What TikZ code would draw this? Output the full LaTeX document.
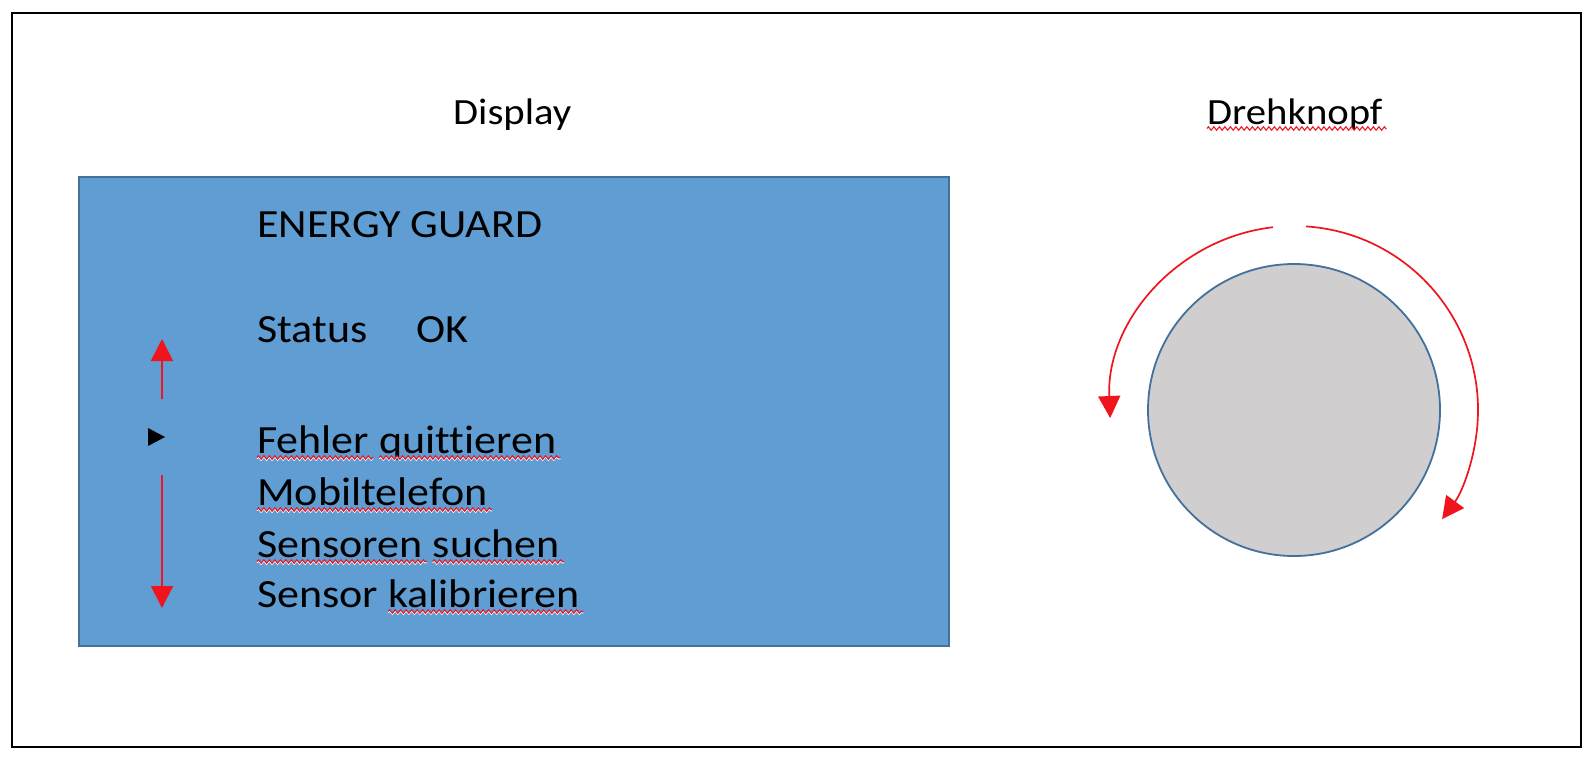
\documentclass[tikz,border=0pt]{standalone}
\usepackage{fontspec}
\setmainfont[FakeStretch=1.1,Ligatures=NoCommon]{Carlito}
\usetikzlibrary{arrows.meta,decorations.pathmorphing}
\definecolor{dispblue}{HTML}{5F9DD3}
\definecolor{edgeblue}{HTML}{41719C}
\definecolor{knobgray}{HTML}{D0CECE}
\definecolor{arrred}{HTML}{F0141E}
\newcommand\squigunder[1]{%
  \draw[squigw] ([yshift=-5.8pt]#1.base west) -- ([yshift=-5.8pt,xshift=4pt]#1.base east);
  \draw[squig] ([yshift=-4.5pt]#1.base west) -- ([yshift=-4.5pt,xshift=4pt]#1.base east);}
\begin{document}
\begin{tikzpicture}[x=1pt,y=-1pt,
  body/.style={font=\fontsize{40}{48}\selectfont, inner sep=0pt, anchor=base west},
  title/.style={font=\fontsize{37}{44}\selectfont, inner sep=0pt, anchor=base west},
  zz/.style={decorate, decoration={zigzag, segment length=5.5pt, amplitude=1.7pt}},
  squig/.style={zz, draw=arrred, line width=1.1pt},
  squigw/.style={zz, draw=white, line width=0.9pt},
  redarrow/.style={draw=arrred, line width=1.7pt, -{Triangle[length=22pt,width=22pt]}}]
\useasboundingbox (0,0) rectangle (1594,758);
\fill[white] (0,0) rectangle (1594,758);
% frame
\node (frame) [draw, line width=2.2pt, minimum width=1569pt, minimum height=734pt, inner sep=0pt] at (796.5,380) {};
% display
\node (display) [draw=edgeblue, fill=dispblue, line width=1.5pt, minimum width=870pt, minimum height=469pt, inner sep=0pt] at (514,411.5) {};
% knob
\node (knob) [circle, draw=edgeblue, fill=knobgray, line width=1.8pt, minimum size=292pt, inner sep=0pt] at (1294,410) {};
\draw[redarrow] ([shift={(-96.6:184)}]knob.center) arc[start angle=-96.6, end angle=-182.5, radius=184];
\draw[redarrow] ([shift={(-86.2:184)}]knob.center) arc[start angle=-86.2, end angle=36.4, radius=184];
% titles
\node[title] (tdisp) at (453,124) {Display};
\node[title] (tdreh) at (1207,124) {Drehknopf};
\squigunder{tdreh}
% display texts
\node[body] (eg) at (257,237) {ENERGY GUARD};
\node[body] (st) at (257,342) {Status};
\node[body] (ok) at (416,342) {OK};
\node[body] (f1) at (257,453) {Fehler};
\node[body] (f2) at ([xshift=9.9pt]f1.base east) {quittieren};
\node[body] (m1) at (257,505) {Mobiltelefon};
\node[body] (s1) at (257,557) {Sensoren};
\node[body] (s2) at ([xshift=9.9pt]s1.base east) {suchen};
\node[body] (k1) at (257,607) {Sensor};
\node[body] (k2) at ([xshift=9.9pt]k1.base east) {kalibrieren};
\squigunder{f1}
\squigunder{f2}
\squigunder{m1}
\squigunder{s1}
\squigunder{s2}
\squigunder{k2}
% scroll arrows
\coordinate (ua) at (162,399);
\coordinate (ub) at (162,339);
\coordinate (da) at (162,475);
\coordinate (db) at (162,608);
\draw[redarrow] (ua) -- (ub);
\draw[redarrow] (da) -- (db);
% pointer
\fill (148,428) -- (165,437) -- (148,446) -- cycle;
\end{tikzpicture}
\end{document}
